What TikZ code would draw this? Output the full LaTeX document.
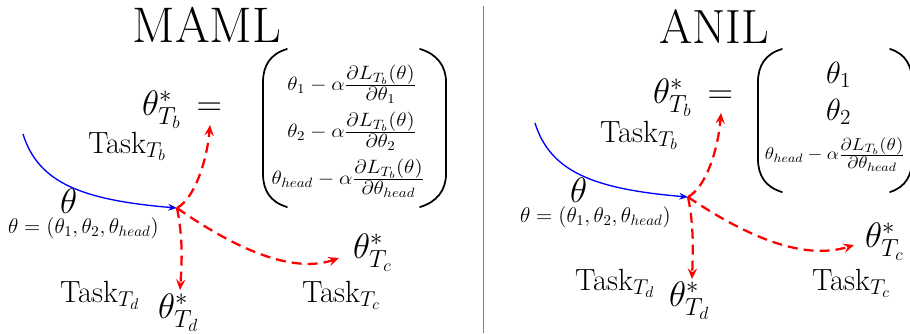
\RequirePackage{fix-cm}
\documentclass[tikz,border=0pt]{standalone}
\usepackage{amsmath}
\usepackage{graphicx}
\usetikzlibrary{arrows.meta}
\newcommand{\myfr}[2]{\frac{\textstyle #1}{\textstyle #2}}
\newcommand{\wide}[2]{\scalebox{#1}[1]{#2}}
\tikzset{
  titlelbl/.style={font=\fontsize{36}{42}\selectfont, anchor=base},
  biglbl/.style={font=\fontsize{26.5}{32}\selectfont, anchor=base west},
  tasklbl/.style={font=\fontsize{23}{28}\selectfont, anchor=base west},
  smalllbl/.style={font=\fontsize{16}{19}\selectfont, anchor=base west},
  matentry/.style={font=\fontsize{14.5}{17}\selectfont},
  matbig/.style={font=\fontsize{23}{28}\selectfont, anchor=base west},
  matsmall/.style={font=\fontsize{13}{16}\selectfont},
  reddash/.style={red, line width=1.7pt, dash pattern=on 7.5pt off 4.5pt,
    -{Stealth[length=8pt,width=7pt,inset=3pt]}},
  bluearrow/.style={blue, line width=1pt, -{Stealth[length=6.5pt,width=5pt]}},
  parenline/.style={line width=1.3pt, line cap=round},
}
\begin{document}
\begin{tikzpicture}[x=0.75pt,y=-0.75pt,inner sep=0pt,outer sep=0pt]
\useasboundingbox (0,0) rectangle (910,333);

% separator
\draw[gray, line width=0.6pt] (483,6) -- (483,333);

% ================= MAML =================
\node[titlelbl, font=\fontsize{37.5}{44}\selectfont] (mamltitle) at (207,42) {MAML};
\node[biglbl] (tbL) at (142,115) {$\theta^*_{T_b}\,=$};
\node[tasklbl] (taskbL) at (88,153) {Task$_{T_b}$};
\node[biglbl] (thetaL) at (60,213) {$\theta$};
\node[smalllbl] (thetadefL) at (8,233) {$\theta=(\theta_1,\theta_2,\theta_{head})$};
\node[tasklbl] (taskdL) at (60,302) {Task$_{T_d}$};
\node[biglbl] (tdL) at (158,318) {$\theta^*_{T_d}$};
\node[tasklbl] (taskcL) at (302,302) {Task$_{T_c}$};
\node[biglbl] (tcL) at (353,258) {$\theta^*_{T_c}$};

% matrix
\node[matentry] (m1L) at (352,84) {\wide{1.1}{$\theta_1-\alpha\myfr{\partial L_{T_b}(\theta)}{\partial\theta_1}$}};
\node[matentry] (m2L) at (352,131) {\wide{1.1}{$\theta_2-\alpha\myfr{\partial L_{T_b}(\theta)}{\partial\theta_2}$}};
\node[matentry] (m3L) at (348,178) {\wide{1.1}{$\theta_{head}-\alpha\myfr{\partial L_{T_b}(\theta)}{\partial\theta_{head}}$}};
\draw[parenline] (287,49) .. controls (270,54) and (263,66) .. (263,82) -- (263,174)
  .. controls (263,190) and (270,202) .. (287,207);
\draw[parenline] (420,49) .. controls (437,54) and (446,66) .. (446,82) -- (446,174)
  .. controls (446,190) and (437,202) .. (420,207);

% arrows
\coordinate (startL) at (23,134);
\coordinate (hubL) at (177,208);
\coordinate (upL) at (210,125);
\coordinate (downL) at (180,290);
\coordinate (rightL) at (339,258);
\draw[bluearrow] (startL) .. controls (38,182) and (80,200) .. (hubL);
\draw[reddash] (hubL) .. controls (195,198) and (207,160) .. (upL);
\draw[reddash] (hubL) .. controls (183,238) and (182,262) .. (downL);
\draw[reddash] (hubL) .. controls (230,245) and (290,275) .. (rightL);

% ================= ANIL =================
\node[titlelbl] (aniltitle) at (714,43) {ANIL};
\node[biglbl] (tbR) at (653,103) {$\theta^*_{T_b}\,=$};
\node[tasklbl] (taskbR) at (600,142) {Task$_{T_b}$};
\node[biglbl] (thetaR) at (570,202) {$\theta$};
\node[smalllbl] (thetadefR) at (520,222) {$\theta=(\theta_1,\theta_2,\theta_{head})$};
\node[tasklbl] (taskdR) at (575,290) {Task$_{T_d}$};
\node[biglbl] (tdR) at (669,306) {$\theta^*_{T_d}$};
\node[tasklbl] (taskcR) at (812,290) {Task$_{T_c}$};
\node[biglbl] (tcR) at (865,247) {$\theta^*_{T_c}$};

% matrix
\node[matbig] (m1R) at (826,83) {$\theta_1$};
\node[matbig] (m2R) at (826,120) {$\theta_2$};
\node[matsmall] (m3R) at (835,154) {\wide{1.11}{$\theta_{head}-\alpha\myfr{\partial L_{T_b}(\theta)}{\partial\theta_{head}}$}};
\draw[parenline] (782,49) .. controls (765,54) and (758,66) .. (758,82) -- (758,159)
  .. controls (758,175) and (765,187) .. (782,192);
\draw[parenline] (890,49) .. controls (906,54) and (912,66) .. (912,82) -- (912,159)
  .. controls (912,175) and (906,187) .. (890,192);

% arrows
\coordinate (startR) at (535,123);
\coordinate (hubR) at (688,197);
\coordinate (upR) at (721,113);
\coordinate (downR) at (692,279);
\coordinate (rightR) at (854,245);
\draw[bluearrow] (startR) .. controls (550,171) and (592,189) .. (hubR);
\draw[reddash] (hubR) .. controls (706,187) and (718,150) .. (upR);
\draw[reddash] (hubR) .. controls (694,226) and (693,252) .. (downR);
\draw[reddash] (hubR) .. controls (740,232) and (800,262) .. (rightR);
\end{tikzpicture}
\end{document}
